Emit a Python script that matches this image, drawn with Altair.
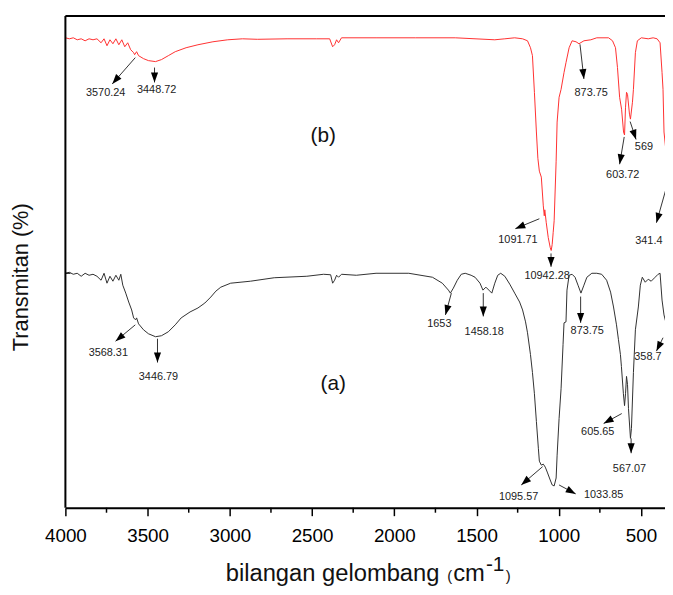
import math
import altair as alt
import pandas as pd

# ---------------- data ----------------
# spectrum (b) - red
wn_b = [4000, 3976, 3952, 3928, 3904, 3880, 3856, 3832, 3808, 3783, 3765, 3747, 3729, 3711,
        3693, 3675, 3657, 3639, 3621, 3603, 3585, 3579, 3567, 3555, 3525, 3495, 3452, 3416,
        3374, 3332, 3266, 3194, 3103, 3013, 2923, 2833, 2652, 2472, 2393, 2375, 2363, 2351,
        2339, 2321, 2111, 1870, 1629, 1389, 1328, 1268, 1220, 1190, 1172, 1160, 1148, 1136,
        1127, 1118, 1106, 1094, 1088, 1085, 1076, 1064, 1052, 1046, 1040, 1034, 1028, 1016,
        1010, 998, 986, 968, 956, 937, 919, 895, 877, 847, 805, 769, 697, 673, 655, 643, 630,
        618, 606, 600, 594, 588, 582, 570, 564, 552, 546, 534, 522, 498, 456, 426, 402, 384,
        372, 366, 360, 348]
t_b = [95.4, 95.2, 95.4, 95.0, 95.2, 94.8, 95.2, 95.0, 95.2, 94.4, 95.2, 93.8, 95.0, 94.2,
       95.2, 94.0, 95.0, 93.6, 94.4, 93.0, 92.4, 92.0, 92.6, 91.8, 91.2, 90.8, 90.6, 91.0,
       91.8, 92.6, 93.4, 94.0, 94.6, 95.0, 95.2, 95.1, 95.2, 95.2, 95.2, 93.6, 94.0, 95.0,
       94.4, 95.4, 95.4, 95.4, 95.4, 95.0, 95.2, 95.4, 95.2, 94.8, 93.4, 91.8, 84.4, 76.4,
       71.1, 68.5, 67.3, 61.5, 59.5, 60.7, 58.1, 55.1, 53.1, 52.5, 53.7, 56.1, 58.5, 70.5,
       78.4, 83.4, 85.0, 88.4, 90.4, 93.4, 94.8, 94.6, 94.2, 94.8, 95.0, 95.4, 95.4, 94.8,
       93.4, 89.4, 83.4, 81.0, 76.4, 75.8, 81.4, 84.4, 84.0, 80.0, 79.0, 82.4, 85.0, 92.4,
       94.8, 95.4, 95.2, 95.4, 95.2, 94.4, 88.4, 85.0, 76.4, 72.5]

# spectrum (a) - black
wn_a = [4000, 3976, 3952, 3928, 3904, 3880, 3856, 3832, 3808, 3783, 3765, 3747, 3729, 3711,
        3693, 3675, 3663, 3651, 3633, 3615, 3597, 3585, 3573, 3567, 3555, 3525, 3495, 3452,
        3416, 3374, 3332, 3296, 3242, 3194, 3152, 3116, 3085, 3055, 2995, 2875, 2730, 2532,
        2430, 2387, 2375, 2363, 2351, 2339, 2321, 2231, 2111, 1912, 1768, 1708, 1671, 1659,
        1641, 1617, 1593, 1569, 1533, 1509, 1479, 1461, 1443, 1425, 1407, 1389, 1371, 1353,
        1328, 1298, 1268, 1238, 1220, 1202, 1190, 1172, 1160, 1148, 1136, 1124, 1118, 1106,
        1094, 1082, 1070, 1052, 1040, 1028, 1016, 1010, 998, 986, 974, 968, 956, 950, 937,
        919, 901, 883, 865, 847, 829, 799, 769, 739, 709, 685, 667, 649, 637, 625, 619, 607,
        600, 594, 588, 582, 576, 564, 558, 546, 534, 516, 504, 492, 474, 456, 438, 414, 396,
        384, 372, 360, 348]
t_a = [47.9, 48.1, 47.7, 47.9, 47.3, 47.9, 47.5, 47.7, 47.3, 46.5, 47.9, 45.9, 47.3, 46.3,
       47.5, 46.5, 47.7, 45.5, 43.9, 42.1, 40.5, 38.9, 38.5, 38.9, 37.7, 36.5, 35.7, 35.1,
       35.3, 36.1, 37.5, 38.9, 40.1, 40.9, 41.9, 43.1, 44.3, 45.1, 45.9, 46.3, 47.0, 47.3,
       47.7, 47.6, 45.9, 46.5, 47.5, 47.1, 47.7, 47.5, 47.9, 47.9, 47.1, 45.9, 44.5, 43.9,
       44.9, 46.5, 47.7, 47.9, 47.5, 47.1, 45.9, 44.5, 45.1, 44.5, 43.9, 45.9, 47.5, 47.9,
       47.3, 45.7, 43.9, 42.1, 40.5, 38.1, 35.9, 31.5, 27.9, 23.6, 18.0, 12.6, 10.0, 9.2,
       9.4, 8.8, 7.8, 6.2, 5.2, 5.0, 6.6, 11.2, 18.6, 24.6, 33.5, 37.9, 38.1, 44.5, 47.5,
       47.7, 47.1, 45.5, 43.9, 45.5, 47.1, 47.9, 47.9, 47.7, 46.5, 44.1, 41.1, 37.5, 34.5,
       31.5, 29.1, 23.6, 21.2, 23.6, 27.1, 25.5, 20.6, 14.6, 16.6, 27.9, 36.5, 41.1, 45.5,
       47.1, 46.1, 46.7, 46.3, 47.1, 47.7, 47.9, 42.5, 39.5, 37.9]

# peak annotations: text, arrow tail, arrow tip, label position (data units)
ann_text = ["3570.24", "3448.72", "873.75", "603.72", "569", "1091.71", "10942.28", "341.4",
            "3568.31", "3446.79", "1653", "1458.18", "873.75", "358.7", "605.65", "567.07",
            "1095.57", "1033.85"]
ann_tail_wn = [3575, 3458, 871, 602, 566, 1118, 1047, 348,
               3575, 3440, 1653, 1459, 867, 366, 617, 560, 1098, 998]
ann_tail_t = [91.4, 89.4, 94.1, 75.4, 78.5, 58.9, 51.9, 64.9,
              37.5, 34.7, 43.9, 43.9, 43.2, 34.9, 19.6, 14.6, 8.9, 5.2]
ann_tip_wn = [3715, 3458, 847, 630, 530, 1264, 1047, 406,
              3695, 3440, 1689, 1459, 867, 406, 727, 560, 1228, 897]
ann_tip_t = [86.1, 86.4, 87.1, 69.9, 74.9, 56.9, 49.2, 58.1,
             34.2, 29.9, 39.5, 39.2, 37.9, 32.2, 17.6, 11.6, 5.2, 3.4]
ann_lab_wn = [3755, 3445, 803, 611, 482, 1248, 1071, 452,
              3739, 3434, 1726, 1453, 827, 458, 763, 570, 1244, 727]
ann_lab_t = [84.2, 84.8, 84.3, 67.7, 73.3, 54.7, 47.3, 54.5,
             31.9, 26.9, 37.7, 36.0, 36.2, 31.1, 15.9, 8.4, 2.7, 3.1]

panel_text = ["(b)", "(a)"]
panel_wn = [2432, 2371]
panel_t = [75.6, 25.5]

major_ticks = [4000, 3500, 3000, 2500, 2000, 1500, 1000, 500]
minor_ticks = [3750, 3250, 2750, 2250, 1750, 1250, 750]
y_tick = [47.9]

# ---------------- layout ----------------
W, H = 606, 497
XDOM = [354, 4000]
YDOM = [0.6, 99.8]
FONT = "Liberation Sans"

xs = alt.Scale(domain=XDOM, reverse=True, nice=False, zero=False)
ys = alt.Scale(domain=YDOM, nice=False, zero=False)

x_axis = alt.Axis(values=major_ticks, format="d", grid=False, tickSize=8, tickWidth=1.5,
                  tickColor="#000", domainWidth=2, domainColor="#000", labelFontSize=19,
                  labelFont=FONT, labelColor="#000", labelPadding=11, labelFlush=False,
                  labelOverlap=False, title=None)


def X(f):
    return alt.X(f, type="quantitative", scale=xs, axis=x_axis, title=None)


def Y(f):
    return alt.Y(f, type="quantitative", scale=ys, axis=None)


df_b = pd.DataFrame({"wn": wn_b, "t": t_b, "i": range(len(wn_b))})
df_a = pd.DataFrame({"wn": wn_a, "t": t_a, "i": range(len(wn_a))})

kx = W / (XDOM[1] - XDOM[0])
ky = H / (YDOM[1] - YDOM[0])
angles = []
for a, b, c, d in zip(ann_tail_wn, ann_tail_t, ann_tip_wn, ann_tip_t):
    dx = -(c - a) * kx
    dy = -(d - b) * ky
    angles.append(math.degrees(math.atan2(dx, -dy)) % 360)

df_ann = pd.DataFrame({
    "text": ann_text, "wn0": ann_tail_wn, "t0": ann_tail_t,
    "wn1": ann_tip_wn, "t1": ann_tip_t, "lwn": ann_lab_wn, "lt": ann_lab_t,
    "ang": angles,
})
df_panel = pd.DataFrame({"text": panel_text, "wn": panel_wn, "t": panel_t})
df_minor = pd.DataFrame({"wn": minor_ticks})
df_ytick = pd.DataFrame({"t": y_tick})

line_b = alt.Chart(df_b).mark_line(color="#ff3030", strokeWidth=1, clip=True).encode(
    x=X("wn"), y=Y("t"), order="i:Q")

line_a = alt.Chart(df_a).mark_line(color="#303030", strokeWidth=1, clip=True).encode(
    x=X("wn"), y=Y("t"), order="i:Q")

arrows = alt.Chart(df_ann).mark_rule(color="#333333", strokeWidth=1).encode(
    x=X("wn0"), y=Y("t0"), x2="wn1", y2="t1")

heads = alt.Chart(df_ann).mark_point(
    shape="M0,0L-0.36,1L0.36,1Z", filled=True, color="#000", opacity=1, size=400
).encode(x=X("wn1"), y=Y("t1"), angle=alt.Angle("ang:Q", scale=None))

labels = alt.Chart(df_ann).mark_text(font=FONT, fontSize=11, color="#222",
                                     align="center", baseline="middle").encode(
    x=X("lwn"), y=Y("lt"), text="text:N")

panels = alt.Chart(df_panel).mark_text(font=FONT, fontSize=21, color="#111",
                                       align="center", baseline="middle").encode(
    x=X("wn"), y=Y("t"), text="text:N")

minor = alt.Chart(df_minor).mark_rule(color="#000", strokeWidth=1.5).encode(
    x=X("wn"), y=alt.value(H), y2=alt.value(H + 5))

ytick = alt.Chart(df_ytick).mark_rule(color="#000", strokeWidth=1).encode(
    y=Y("t"), x=alt.value(0), x2=alt.value(5))

frame_left = alt.Chart(df_ytick).mark_rule(color="#000", strokeWidth=2).encode(
    x=alt.value(0), y=alt.value(0), y2=alt.value(H))
frame_top = alt.Chart(df_ytick).mark_rule(color="#000", strokeWidth=2).encode(
    x=alt.value(0), x2=alt.value(W), y=alt.value(0))

ytitle = alt.Chart(df_ytick).mark_text(font=FONT, fontSize=22, color="#111", angle=270,
                                       align="center", baseline="middle").encode(
    x=alt.value(-45), y=alt.value(264), text=alt.value("Transmitan (%)"))

XT_BASE = 571
xt1 = alt.Chart(df_ytick).mark_text(font=FONT, fontSize=24, color="#111", align="left",
                                    baseline="alphabetic").encode(
    x=alt.value(162), y=alt.value(XT_BASE), text=alt.value("bilangan gelombang"))
xt2 = alt.Chart(df_ytick).mark_text(font=FONT, fontSize=15, color="#111", align="left",
                                    baseline="alphabetic").encode(
    x=alt.value(386), y=alt.value(XT_BASE), text=alt.value("("))
xt3 = alt.Chart(df_ytick).mark_text(font=FONT, fontSize=24, color="#111", align="left",
                                    baseline="alphabetic").encode(
    x=alt.value(392), y=alt.value(XT_BASE), text=alt.value("cm"))
xt4 = alt.Chart(df_ytick).mark_text(font=FONT, fontSize=21, color="#111", align="left",
                                    baseline="alphabetic").encode(
    x=alt.value(425), y=alt.value(XT_BASE - 10), text=alt.value("-1"))
xt5 = alt.Chart(df_ytick).mark_text(font=FONT, fontSize=15, color="#111", align="left",
                                    baseline="alphabetic").encode(
    x=alt.value(445), y=alt.value(XT_BASE), text=alt.value(")"))

chart = alt.layer(
    line_b, line_a, arrows, heads, labels, panels, minor, ytick, frame_left, frame_top,
    ytitle, xt1, xt2, xt3, xt4, xt5
).properties(
    width=W, height=H,
    autosize=alt.AutoSizeParams(type="none"),
    padding={"left": 58, "top": 5, "right": 0, "bottom": 77},
).configure_view(stroke=None).configure(background="white")

chart.save("out.html", embed_options={"renderer": "svg", "actions": False})
